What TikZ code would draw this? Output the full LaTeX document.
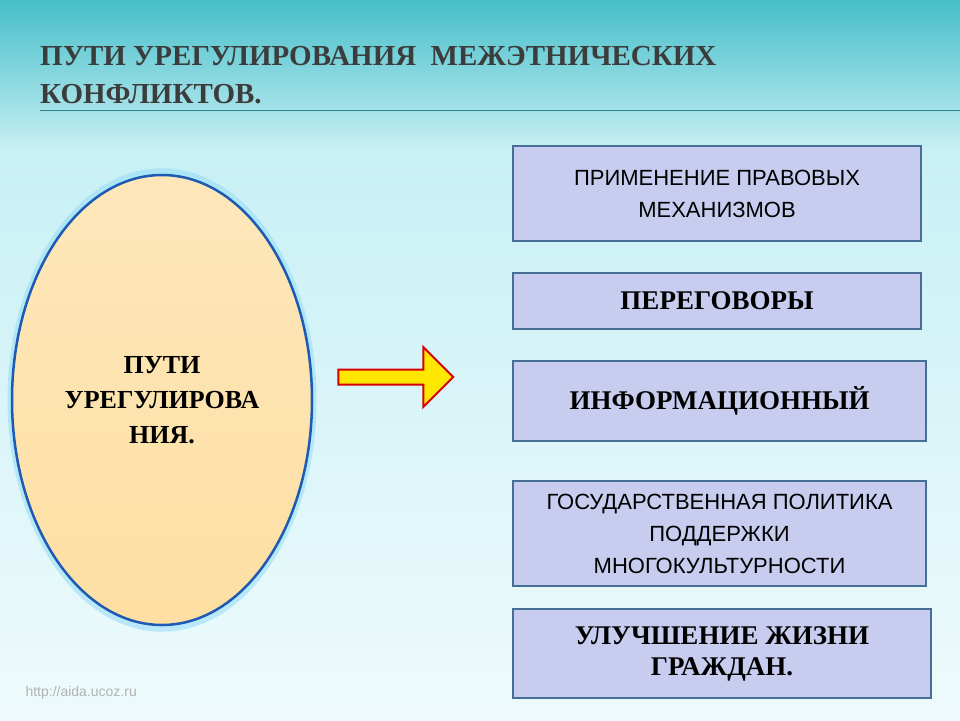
\documentclass[tikz,border=0pt]{standalone}
\usepackage{fontspec}
\setmainfont{Liberation Serif}
\newfontfamily\sansfnt{Liberation Sans}
\usetikzlibrary{shapes.geometric,shapes.arrows,positioning,shadows}

\definecolor{bgtop}{RGB}{70,190,200}
\definecolor{bgmid}{RGB}{200,240,245}
\definecolor{boxfill}{RGB}{200,205,240}
\definecolor{boxline}{RGB}{70,110,150}
\definecolor{ovalline}{RGB}{30,90,180}
\definecolor{ovalfill}{RGB}{252,215,140}
\definecolor{titlecol}{RGB}{60,60,60}

\tikzset{
    pathbox/.style = {rectangle, draw=boxline, line width=2pt, fill=boxfill,
                      align=center, anchor=north west, inner sep=2pt},
    sanstxt/.style = {font=\sansfnt\fontsize{22}{32}\selectfont},
    seriftxt/.style = {font=\bfseries\fontsize{27}{31}\selectfont},
}

\begin{document}
\begin{tikzpicture}[x=1pt, y=-1pt]
\useasboundingbox (0,0) rectangle (960,720);

%============ BACKGROUND ============
\shade[top color=bgtop, bottom color=bgmid] (0,0) rectangle (960,150);
\shade[top color=bgmid, bottom color=white!70!bgmid] (0,150) rectangle (960,720);
\draw[bgtop!70!black, thin] (40,110) -- (960,110);

%============ TITLE ============
\node (title) [anchor=north west, align=left, text=titlecol, inner sep=0pt,
               font=\bfseries\fontsize{29}{38}\selectfont] at (40,46)
  {ПУТИ УРЕГУЛИРОВАНИЯ \ МЕЖЭТНИЧЕСКИХ\\КОНФЛИКТОВ.};

%============ OVAL ============
\node (oval) [ellipse, draw=ovalline, line width=2.5pt,
              top color=ovalfill!60!white, bottom color=ovalfill!80!white,
              minimum width=300pt, minimum height=450pt, align=center,
              drop shadow={shadow xshift=0pt, shadow yshift=0pt,
              fill=cyan!40, opacity=0.6, shadow scale=1.03},
              font=\bfseries\fontsize{26}{35}\selectfont] at (162,400)
  {ПУТИ\\УРЕГУЛИРОВА\\НИЯ.};

%============ ARROW ============
\node (arrow) [single arrow, draw=red!85!black, line width=2pt, fill=yellow!90!orange,
               minimum width=60pt, single arrow head extend=3pt,
               minimum height=115pt, inner sep=0pt] at (392,377) {};

%============ BOXES ============
\node (legal) [pathbox, sanstxt, minimum width=408pt, minimum height=95pt] at (512,145)
  {ПРИМЕНЕНИЕ ПРАВОВЫХ\\МЕХАНИЗМОВ};
\node (talks) [pathbox, seriftxt, minimum width=408pt, minimum height=56pt] at (512,272)
  {ПЕРЕГОВОРЫ};
\node (info) [pathbox, seriftxt, minimum width=413pt, minimum height=80pt] at (512,360)
  {ИНФОРМАЦИОННЫЙ};
\node (policy) [pathbox, sanstxt, minimum width=413pt, minimum height=105pt] at (512,480)
  {ГОСУДАРСТВЕННАЯ ПОЛИТИКА\\ПОДДЕРЖКИ\\МНОГОКУЛЬТУРНОСТИ};
\node (life) [pathbox, seriftxt, minimum width=418pt, minimum height=89pt] at (512,608)
  {УЛУЧШЕНИЕ ЖИЗНИ\\ГРАЖДАН.};

%============ FOOTER ============
\node (footer) [anchor=west, text=gray!60, font=\sansfnt\fontsize{14}{15}\selectfont] at (22,693)
  {http://aida.ucoz.ru};

\end{tikzpicture}
\end{document}
